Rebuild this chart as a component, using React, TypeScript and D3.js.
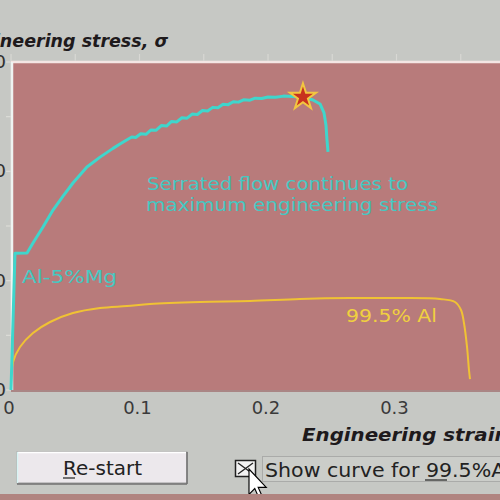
import React from "react";
import * as d3 from "d3";

// Al-5%Mg (serrated flow) : strain, stress
const mgStrain = [0, 0.0031, 0.0125, 0.0171, 0.0249, 0.0327, 0.0405, 0.0482, 0.0591, 0.0693, 0.0794, 0.0848,
  0.090, 0.094, 0.097, 0.101, 0.105, 0.109, 0.113, 0.117, 0.121, 0.125, 0.129, 0.133, 0.137, 0.141, 0.145,
  0.149, 0.153, 0.157, 0.161, 0.165, 0.169, 0.173, 0.177, 0.181, 0.186, 0.190, 0.195, 0.200, 0.206, 0.212,
  0.219, 0.2272, 0.235, 0.2405, 0.2436, 0.2451, 0.2459, 0.2467];
const mgStress = [0, 125, 125.3, 134.5, 149.1, 164.6, 177.4, 189.3, 204, 213, 221, 225,
  228.7, 231.4, 230.9, 234.4, 233.9, 237.9, 237.6, 241.9, 241.4, 245.6, 245.2, 249.0, 248.6, 252.4, 252.0,
  255.6, 255.2, 258.5, 258.1, 261.3, 261.0, 263.7, 263.3, 265.4, 265.1, 266.9, 266.6, 268.0, 267.7, 268.8,
  268.5, 268, 265.3, 261.6, 253.4, 242.4, 228.7, 217.7];

// 99.5% Al
const alStrain = [0, 0.0016, 0.007, 0.0171, 0.0304, 0.0482, 0.0693, 0.0903, 0.1082, 0.1471, 0.186, 0.2249,
  0.2638, 0.3027, 0.3339, 0.3455, 0.3502, 0.3525, 0.3549, 0.3564, 0.3572];
const alStress = [0, 25.6, 39.3, 52.1, 62.2, 70.4, 75, 76.8, 78.7, 80.5, 81.4, 83.2,
  84.1, 84.1, 83.2, 80.5, 73.2, 61.3, 39.3, 18.3, 10];

const maxPoint = [0.2272, 268];

const xTicks = [0, 0.1, 0.2, 0.3];
const xTickLabels = ["0", "0.1", "0.2", "0.3"];
const xMinorTicks = [0, 0.05, 0.1, 0.15, 0.2, 0.25, 0.3, 0.35];
const yTicks = [0, 100, 200, 300];
const yTickLabels = ["0", "100", "200", "300"];
const yMinorTicks = [0, 50, 100, 150, 200, 250, 300];

export default function App() {
  const x = d3.scaleLinear().domain([0, 0.1]).range([11, 139.5]);
  const y = d3.scaleLinear().domain([0, 300]).range([390, 62]);

  const mgData = mgStrain.map((s, i) => [s, mgStress[i]] as [number, number]);
  const alData = alStrain.map((s, i) => [s, alStress[i]] as [number, number]);

  const mgLine = d3.line<[number, number]>().x(d => x(d[0])).y(d => y(d[1]));
  const alLine = d3.line<[number, number]>().x(d => x(d[0])).y(d => y(d[1])).curve(d3.curveCatmullRom);

  const star = d3.symbol().type(d3.symbolStar).size(210)();

  const font = "'DejaVu Sans', Verdana, sans-serif";

  return (
    <svg width={500} height={500} style={{ position: "fixed", left: 0, top: 0 }}>
      <rect x={0} y={0} width={500} height={500} fill="#c6c8c4" />
      {/* plot area */}
      <rect x={11} y={62} width={500} height={328} fill="#b87b7b" />
      <line x1={11} x2={500} y1={62} y2={62} stroke="#f4e6e4" strokeWidth={2.5} />
      <line x1={12} x2={12} y1={62} y2={390} stroke="#eef4f2" strokeWidth={2.5} />
      <line x1={11} x2={500} y1={391} y2={391} stroke="#a07070" strokeWidth={1.5} />

      {/* top minor ticks */}
      {xMinorTicks.map((t, i) => (
        <line key={"tt" + i} x1={x(t)} x2={x(t)} y1={54} y2={61} stroke="#d8d8d4" strokeWidth={1.2} />
      ))}
      {/* left ticks */}
      {yMinorTicks.map((t, i) => (
        <line key={"yt" + i} x1={6} x2={11} y1={y(t)} y2={y(t)} stroke="#dcdcd8" strokeWidth={1.2} />
      ))}
      {yTicks.map((t, i) => (
        <text key={"yl" + i} x={6} y={y(t) + 6} textAnchor="end" fontFamily={font} fontSize={18} fill="#303030">
          {yTickLabels[i]}
        </text>
      ))}
      {xTicks.map((t, i) => (
        <text key={"xl" + i} x={x(t) - 2} y={414} textAnchor="middle" fontFamily={font} fontSize={18} fill="#3a3a3a">
          {xTickLabels[i]}
        </text>
      ))}

      {/* curves */}
      <path d={alLine(alData) || ""} fill="none" stroke="#f0c234" strokeWidth={2} />
      <path d={mgLine(mgData) || ""} fill="none" stroke="#3fd6cc" strokeWidth={3} strokeLinejoin="round" />
      <path
        d={star || ""}
        transform={`translate(${x(maxPoint[0])},${y(maxPoint[1])})`}
        fill="#c8321e"
        stroke="#f2c640"
        strokeWidth={2}
      />

      {/* labels */}
      <text x={22} y={283} fontFamily={font} fontSize={18} fill="#46c8c2" textLength={95} lengthAdjust="spacingAndGlyphs">
        Al-5%Mg
      </text>
      <text x={147} y={190} fontFamily={font} fontSize={18} fill="#46c8c2" textLength={261} lengthAdjust="spacingAndGlyphs">
        Serrated flow continues to
      </text>
      <text x={146} y={211} fontFamily={font} fontSize={18} fill="#46c8c2" textLength={292} lengthAdjust="spacingAndGlyphs">
        maximum engineering stress
      </text>
      <text x={346} y={322} fontFamily={font} fontSize={18} fill="#f0d040" textLength={91} lengthAdjust="spacingAndGlyphs">
        99.5% Al
      </text>

      {/* axis titles */}
      <text x={-43} y={47} fontFamily={font} fontSize={18} fontWeight="bold" fontStyle="italic" fill="#1e1a1c"
        textLength={211} lengthAdjust="spacingAndGlyphs">
        Engineering stress, σ
      </text>
      <text x={302} y={441} fontFamily={font} fontSize={18} fontWeight="bold" fontStyle="italic" fill="#1e1a1c"
        textLength={232} lengthAdjust="spacingAndGlyphs">
        Engineering strain, ε
      </text>

      {/* button */}
      <rect x={17} y={452} width={170} height={31} fill="#ece8ec" stroke="#9a9a9a" strokeWidth={1} />
      <line x1={17.5} x2={186} y1={452.5} y2={452.5} stroke="#ffffff" strokeWidth={1.5} />
      <line x1={17.5} x2={17.5} y1={452} y2={483} stroke="#d8f4f4" strokeWidth={1.5} />
      <line x1={17} x2={187} y1={484} y2={484} stroke="#707070" strokeWidth={1.5} />
      <line x1={187} x2={187} y1={452} y2={484} stroke="#707070" strokeWidth={1.5} />
      <text x={63} y={475} fontFamily={font} fontSize={19} fill="#222" textLength={79} lengthAdjust="spacingAndGlyphs">
        Re-start
      </text>
      <line x1={63} x2={75} y1={478} y2={478} stroke="#222" strokeWidth={1.2} />

      {/* checkbox */}
      <rect x={235.5} y={460.5} width={20} height={16} fill="#f2f2f2" stroke="#202020" strokeWidth={1.5} />
      <line x1={238} x2={253} y1={463} y2={474} stroke="#202020" strokeWidth={1.3} />
      <line x1={253} x2={238} y1={463} y2={474} stroke="#202020" strokeWidth={1.3} />
      <rect x={262.5} y={456.5} width={240} height={25} fill="#cbcdc9" stroke="#8a8a8a" strokeWidth={1} strokeDasharray="1,1" />
      <text x={265} y={477} fontFamily={font} fontSize={20} fill="#222" textLength={246} lengthAdjust="spacingAndGlyphs">
        Show curve for 99.5%Al
      </text>
      <line x1={425} x2={447} y1={480} y2={480} stroke="#222" strokeWidth={1.2} />

      {/* mouse cursor */}
      <path
        d="M0,0 L0,22 L5,17 L9,26 L12,25 L8,16 L15,16 Z"
        transform="translate(249,469) scale(1.15)"
        fill="#ffffff"
        stroke="#000"
        strokeWidth={1}
      />

      {/* bottom band */}
      <rect x={0} y={494} width={500} height={6} fill="#b08480" />
    </svg>
  );
}
